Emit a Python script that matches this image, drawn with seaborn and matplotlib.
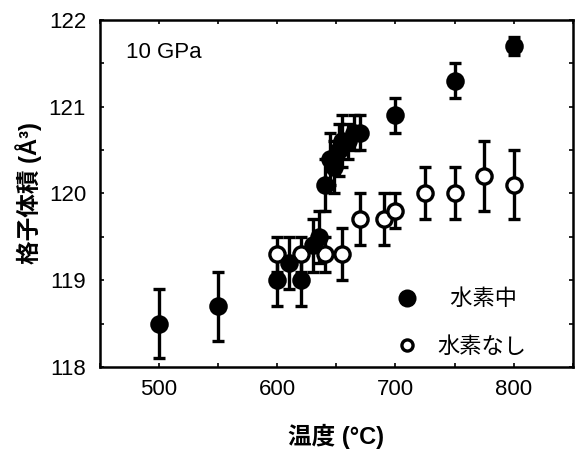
import numpy as np
import pandas as pd
import matplotlib
matplotlib.use("Agg")
import matplotlib.pyplot as plt
import seaborn as sns
from matplotlib.ticker import MultipleLocator
from matplotlib.lines import Line2D

# Data: with hydrogen (filled)
t_h = [500, 550, 600, 610, 620, 630, 635, 640, 645, 648, 652, 655, 660, 665, 670, 700, 750, 800]
v_h = [118.5, 118.7, 119.0, 119.2, 119.0, 119.4, 119.5, 120.1, 120.4, 120.3, 120.5, 120.6, 120.6, 120.7, 120.7, 120.9, 121.3, 121.7]
e_h = [0.4, 0.4, 0.3, 0.3, 0.3, 0.3, 0.3, 0.3, 0.3, 0.3, 0.3, 0.3, 0.2, 0.2, 0.2, 0.2, 0.2, 0.1]
# Data: without hydrogen (open)
t_n = [600, 620, 640, 655, 670, 690, 700, 725, 750, 775, 800]
v_n = [119.3, 119.3, 119.3, 119.3, 119.7, 119.7, 119.8, 120.0, 120.0, 120.2, 120.1]
e_n = [0.2, 0.2, 0.2, 0.3, 0.3, 0.3, 0.2, 0.3, 0.3, 0.4, 0.4]

label_h = "水素中"
label_n = "水素なし"
x_ticks = [500, 600, 700, 800]
y_ticks = [118, 119, 120, 121, 122]

sns.set_style("ticks")
plt.rcParams['font.family'] = ['Liberation Sans', 'Noto Sans CJK JP', 'DejaVu Sans']
plt.rcParams['text.color'] = 'black'
plt.rcParams['axes.labelcolor'] = 'black'
plt.rcParams['xtick.color'] = 'black'
plt.rcParams['ytick.color'] = 'black'

fig = plt.figure(figsize=(5.78, 4.53), dpi=100)
ax = fig.add_axes([0.173, 0.190, 0.818, 0.766])

df = pd.concat([
    pd.DataFrame({"t": t_h, "v": v_h, "e": e_h, "s": label_h}),
    pd.DataFrame({"t": t_n, "v": v_n, "e": e_n, "s": label_n}),
])

for lab, face in [(label_n, "white"), (label_h, "black")]:
    d = df[df.s == lab]
    ax.errorbar(d.t, d.v, yerr=d.e, fmt="none", ecolor="black", elinewidth=2.4,
                capsize=4, capthick=2.4, zorder=2)
    sns.scatterplot(x=d.t, y=d.v, ax=ax, s=120, color=face, edgecolor="black",
                    linewidth=2.4, zorder=3, legend=False)

ax.set_xlim(450, 850)
ax.set_ylim(118, 122)
ax.set_xticks(x_ticks)
ax.set_yticks(y_ticks)
ax.xaxis.set_minor_locator(MultipleLocator(50))
ax.yaxis.set_minor_locator(MultipleLocator(0.5))
ax.tick_params(which="both", direction="in", top=True, right=True, length=3, width=1.2,
               labelsize=16, pad=9)
ax.tick_params(axis="y", pad=10)
for s in ax.spines.values():
    s.set_linewidth(1.8)
    s.set_color("black")

ax.set_xlabel("温度 (°C)", fontsize=17, fontweight="bold", labelpad=17)
ax.set_ylabel("格子体積 (Å³)", fontsize=17, fontweight="bold", labelpad=5)
ax.text(0.055, 0.935, "10 GPa", transform=ax.transAxes, fontsize=16, va="top")

handles = [Line2D([], [], marker="o", ls="none", ms=11, mfc="black", mec="black", mew=2),
           Line2D([], [], marker="o", ls="none", ms=8, mfc="white", mec="black", mew=2.4)]
ax.legend(handles, ["  " + label_h, label_n], loc="lower right", frameon=False,
          fontsize=16, handletextpad=0.4, labelspacing=1.2,
          bbox_to_anchor=(0.945, -0.032))

fig.savefig("out.png", dpi=100)
